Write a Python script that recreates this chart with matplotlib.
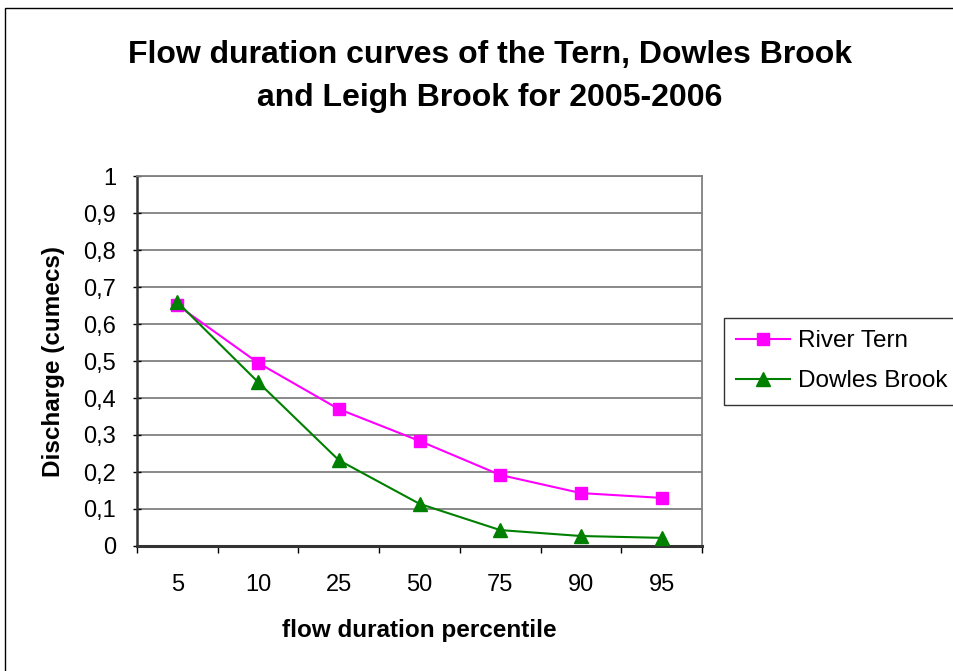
import matplotlib
matplotlib.use("Agg")
import matplotlib.pyplot as plt
from matplotlib.patches import Rectangle

categories = ["5", "10", "25", "50", "75", "90", "95"]
river_tern = [0.651, 0.495, 0.370, 0.284, 0.192, 0.143, 0.130]
dowles_brook = [0.659, 0.443, 0.232, 0.114, 0.043, 0.027, 0.022]
yticks = [0, 0.1, 0.2, 0.3, 0.4, 0.5, 0.6, 0.7, 0.8, 0.9, 1.0]
ytick_labels = ["0", "0,1", "0,2", "0,3", "0,4", "0,5", "0,6", "0,7", "0,8", "0,9", "1"]

plt.rcParams['font.family'] = ['Liberation Sans', 'DejaVu Sans']

fig = plt.figure(figsize=(9.54, 6.71), dpi=100)
ax = fig.add_axes([137/954, 1-546/671, (702-137)/954, (546-176)/671])

x = list(range(len(categories)))
ax.plot(x, river_tern, color='#FF00FF', lw=1.5, marker='s', ms=8.5, label='River Tern', zorder=3)
ax.plot(x, dowles_brook, color='#008000', lw=1.5, marker='^', ms=10, label='Dowles Brook', zorder=4)

ax.set_xlim(-0.5, len(categories)-0.5)
ax.set_ylim(0, 1)
ax.set_yticks(yticks)
ax.set_yticklabels(ytick_labels, fontsize=17)
ax.set_xticks([i-0.5 for i in range(len(categories)+1)])
ax.set_xticklabels([])
ax.set_xticks(x, minor=True)
ax.set_xticklabels(categories, minor=True, fontsize=17)
ax.tick_params(axis='x', which='major', length=5, width=1, color='black', direction='out')
ax.tick_params(axis='x', which='minor', length=0, pad=20.5)
ax.tick_params(axis='y', length=6, width=1, direction='inout', pad=12)

ax.yaxis.grid(True, color='#808080', lw=1.3)
ax.set_axisbelow(True)
for s in ['top', 'right']:
    ax.spines[s].set_color('#808080')
    ax.spines[s].set_linewidth(1.3)
ax.spines['left'].set_linewidth(1.8)
ax.spines['bottom'].set_linewidth(2.2)
ax.spines['left'].set_color('#333333')
ax.spines['bottom'].set_color('#333333')

ax.set_ylabel('Discharge (cumecs)', fontsize=17.5, fontweight='bold', labelpad=13)
ax.set_xlabel('flow duration percentile', fontsize=17.5, fontweight='bold', labelpad=16)

fig.text(490/954, 1-55/671, 'Flow duration curves of the Tern, Dowles Brook',
         ha='center', va='center', fontsize=23, fontweight='bold')
fig.text(490/954, 1-98/671, 'and Leigh Brook for 2005-2006',
         ha='center', va='center', fontsize=23, fontweight='bold')

leg = fig.legend(loc='upper left', bbox_to_anchor=(724/954, 1-318/671), fontsize=17.5,
                 frameon=True, fancybox=False, edgecolor='black', borderpad=0.5,
                 handlelength=2.2, handletextpad=0.35, labelspacing=0.75, borderaxespad=0)
leg.get_frame().set_linewidth(1)

fig.patches.append(Rectangle((5/954, -0.1), 2, 1.1 - 8/671, transform=fig.transFigure,
                             fill=False, edgecolor='black', lw=1))

fig.savefig('out.png', dpi=100)
